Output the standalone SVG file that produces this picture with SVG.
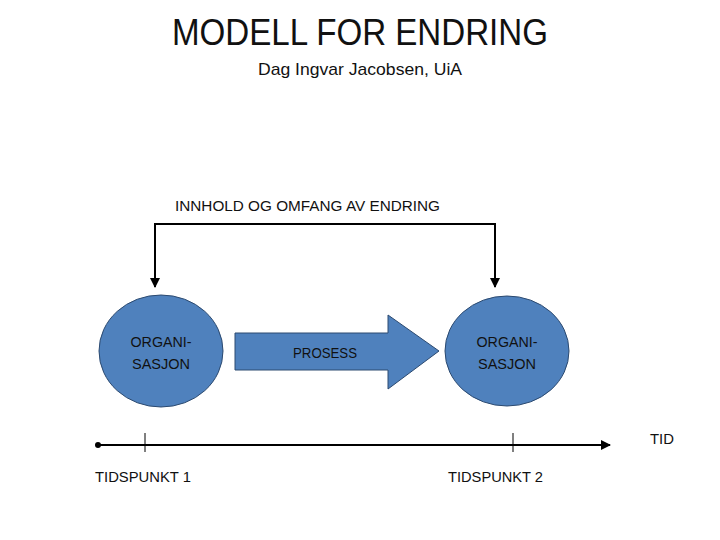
<svg xmlns="http://www.w3.org/2000/svg" width="720" height="540" viewBox="0 0 720 540">
<style>
text{font-family:"Liberation Sans",Arial,sans-serif;fill:#111;}
.node{fill:#4F81BD;stroke:#2C4A70;stroke-width:1;}
.conn{stroke:#000;stroke-width:2;fill:none;}
.lbl{font-size:14px;}
</style>
<defs>
<marker id="ah" viewBox="0 0 10 10" refX="9" refY="5" markerWidth="5" markerHeight="5" orient="auto" markerUnits="strokeWidth">
<path d="M0,0 L10,5 L0,10 z" fill="#000"/>
</marker>
<marker id="dot" viewBox="0 0 10 10" refX="5" refY="5" markerWidth="3" markerHeight="3" markerUnits="strokeWidth">
<circle cx="5" cy="5" r="5" fill="#000"/>
</marker>
</defs>
<rect width="720" height="540" fill="#fff"/>
<g id="title">
<text x="360" y="45" font-size="37" text-anchor="middle" textLength="376" lengthAdjust="spacingAndGlyphs">MODELL FOR ENDRING</text>
<text x="360" y="75" font-size="17" text-anchor="middle" textLength="204" lengthAdjust="spacingAndGlyphs">Dag Ingvar Jacobsen, UiA</text>
</g>
<g id="connectors">
<path class="conn" d="M325,224 H155 V287" marker-end="url(#ah)"/>
<path class="conn" d="M325,224 H495 V287" marker-end="url(#ah)"/>
<line class="conn" x1="98" y1="445" x2="610" y2="445" marker-start="url(#dot)" marker-end="url(#ah)"/>
<line x1="145" y1="433" x2="145" y2="452" stroke="#000" stroke-width="1"/>
<line x1="513" y1="433" x2="513" y2="452" stroke="#000" stroke-width="1"/>
</g>
<g id="label-innhold">
<text class="lbl" x="175" y="211" textLength="265" lengthAdjust="spacingAndGlyphs">INNHOLD OG OMFANG AV ENDRING</text>
</g>
<g id="org1">
<ellipse class="node" cx="161" cy="351" rx="62" ry="56"/>
<text class="lbl" x="161" y="347" text-anchor="middle" textLength="61" lengthAdjust="spacingAndGlyphs">ORGANI-</text>
<text class="lbl" x="161" y="369" text-anchor="middle" textLength="58" lengthAdjust="spacingAndGlyphs">SASJON</text>
</g>
<g id="prosess">
<path class="node" d="M235,333 H388 V315 L439,351 L388,389 V370 H235 Z"/>
<text class="lbl" x="325" y="358" text-anchor="middle" textLength="64" lengthAdjust="spacingAndGlyphs">PROSESS</text>
</g>
<g id="org2">
<ellipse class="node" cx="507" cy="351" rx="62" ry="55"/>
<text class="lbl" x="507" y="347" text-anchor="middle" textLength="61" lengthAdjust="spacingAndGlyphs">ORGANI-</text>
<text class="lbl" x="507" y="369" text-anchor="middle" textLength="58" lengthAdjust="spacingAndGlyphs">SASJON</text>
</g>
<g id="timeline-labels">
<text class="lbl" x="650" y="444" textLength="24" lengthAdjust="spacingAndGlyphs">TID</text>
<text class="lbl" x="95" y="482" textLength="96" lengthAdjust="spacingAndGlyphs">TIDSPUNKT 1</text>
<text class="lbl" x="448" y="482" textLength="95" lengthAdjust="spacingAndGlyphs">TIDSPUNKT 2</text>
</g>
</svg>
